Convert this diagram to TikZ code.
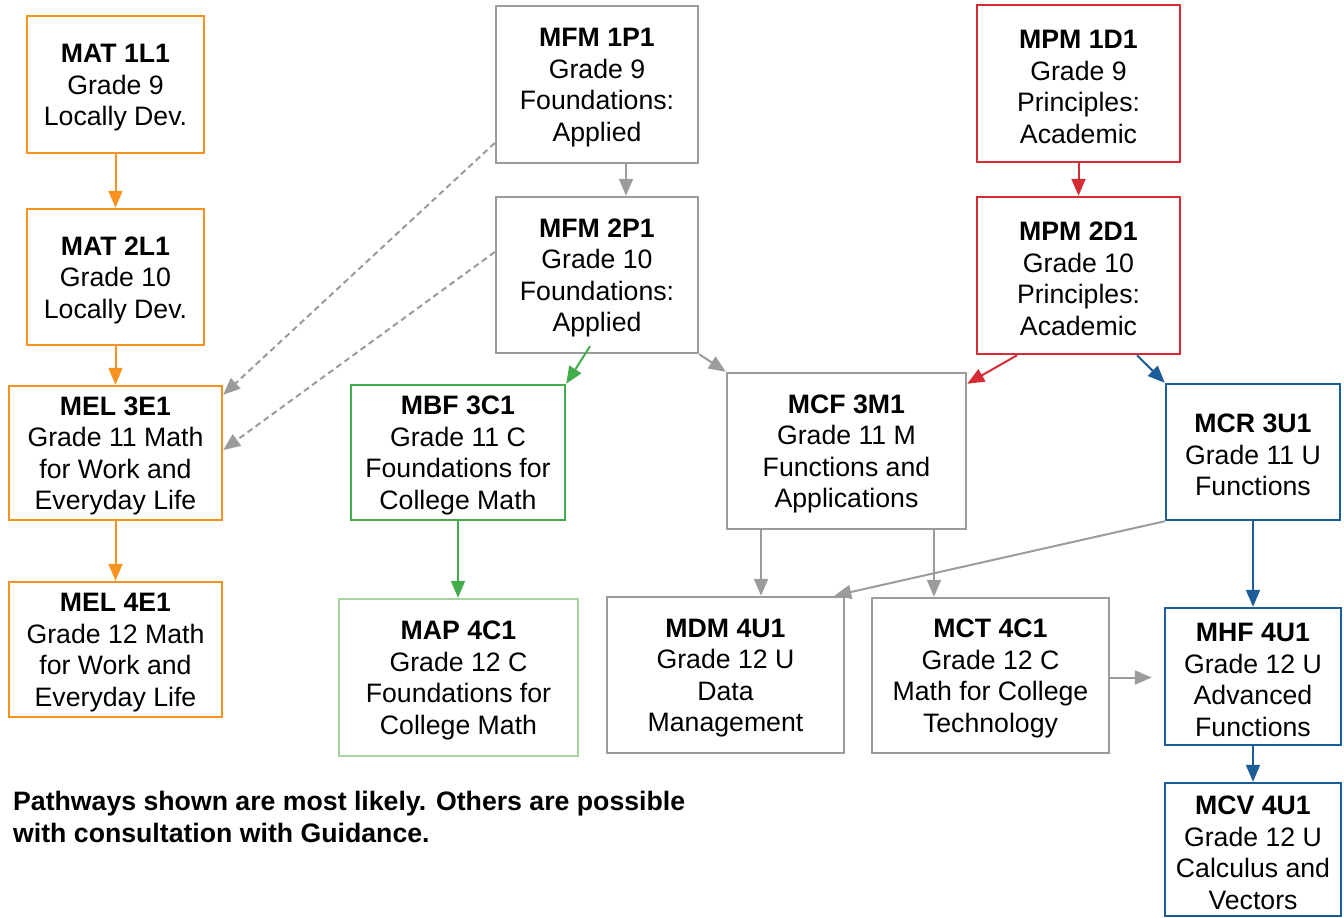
\documentclass[tikz,border=0pt]{standalone}
\usepackage{fontspec}
\setmainfont{Liberation Sans}
\usetikzlibrary{arrows.meta}
\definecolor{corange}{HTML}{F7931E}
\definecolor{cgray}{HTML}{9B9B9B}
\definecolor{cred}{HTML}{D52B33}
\definecolor{cgreen}{HTML}{43AC4A}
\definecolor{clgreen}{HTML}{A6D49F}
\definecolor{cblue}{HTML}{1C5C97}
\newcommand{\ctitle}[1]{\rule{0pt}{25pt}\textbf{#1}}
\tikzset{
  box/.style={draw, line width=2.5pt, fill=white, align=center, inner sep=0pt,
    font=\fontsize{26.67}{31.5}\selectfont},
  conn/.style={line width=2pt, -{Triangle[length=17pt,width=14pt]}},
  dconn/.style={conn, dash pattern=on 6pt off 4pt},
}
\begin{document}
\begin{tikzpicture}[x=1pt,y=-1pt]
\useasboundingbox (0,0) rectangle (1344,918);
% orange column
\node[box, draw=corange, minimum width=177pt, minimum height=137pt] (mat1) at (115.5,84.5) {\ctitle{MAT 1L1}\\Grade 9\\Locally Dev.};
\node[box, draw=corange, minimum width=177pt, minimum height=136pt] (mat2) at (115.5,277) {\ctitle{MAT 2L1}\\Grade 10\\Locally Dev.};
\node[box, draw=corange, minimum width=213pt, minimum height=134pt] (mel3) at (115.5,453) {\ctitle{MEL 3E1}\\Grade 11 Math\\for Work and\\Everyday Life};
\node[box, draw=corange, minimum width=213pt, minimum height=135pt] (mel4) at (115.5,649.5) {\ctitle{MEL 4E1}\\Grade 12 Math\\for Work and\\Everyday Life};
% gray / applied
\node[box, draw=cgray, minimum width=202pt, minimum height=157pt] (mfm1) at (597,84.5) {\ctitle{MFM 1P1}\\Grade 9\\Foundations:\\Applied};
\node[box, draw=cgray, minimum width=202pt, minimum height=156pt] (mfm2) at (597,275) {\ctitle{MFM 2P1}\\Grade 10\\Foundations:\\Applied};
% red / academic
\node[box, draw=cred, minimum width=203pt, minimum height=157pt] (mpm1) at (1078.5,83.5) {\ctitle{MPM 1D1}\\Grade 9\\Principles:\\Academic};
\node[box, draw=cred, minimum width=203pt, minimum height=157pt] (mpm2) at (1078.5,275.5) {\ctitle{MPM 2D1}\\Grade 10\\Principles:\\Academic};
% grade 11
\node[box, draw=cgreen, minimum width=214pt, minimum height=135pt] (mbf) at (458,452.5) {\ctitle{MBF 3C1}\\Grade 11 C\\Foundations for\\College Math};
\node[box, draw=cgray, minimum width=239pt, minimum height=156pt] (mcf) at (846.5,451) {\ctitle{MCF 3M1}\\Grade 11 M\\Functions and\\Applications};
\node[box, draw=cblue, minimum width=174pt, minimum height=136pt] (mcr) at (1253,452) {\ctitle{MCR 3U1}\\Grade 11 U\\Functions};
% grade 12
\node[box, draw=clgreen, minimum width=239pt, minimum height=157pt] (map) at (458.5,677.5) {\ctitle{MAP 4C1}\\Grade 12 C\\Foundations for\\College Math};
\node[box, draw=cgray, minimum width=237pt, minimum height=156pt] (mdm) at (725.5,675) {\ctitle{MDM 4U1}\\Grade 12 U\\Data\\Management};
\node[box, draw=cgray, minimum width=237pt, minimum height=155pt] (mct) at (990.5,675.5) {\ctitle{MCT 4C1}\\Grade 12 C\\Math for College\\Technology};
\node[box, draw=cblue, minimum width=176pt, minimum height=137pt] (mhf) at (1253,676.5) {\ctitle{MHF 4U1}\\Grade 12 U\\Advanced\\Functions};
\node[box, draw=cblue, minimum width=176pt, minimum height=133pt] (mcv) at (1253,849.5) {\ctitle{MCV 4U1}\\Grade 12 U\\Calculus and\\Vectors};
% note
\node[anchor=base west, align=left, inner sep=0pt, font=\fontsize{26.67}{31.5}\selectfont\bfseries] (note) at (13,842) {Pathways shown are most likely. Others are possible\\with consultation with Guidance.};
% connectors
\draw[conn, corange] (mat1.south) -- (mat2.north);
\draw[conn, corange] (mat2.south) -- (mel3.north);
\draw[conn, corange] (mel3.south) -- (mel4.north);
\draw[conn, cgray] ([xshift=29pt]mfm1.south) -- ([xshift=29pt]mfm1.south |- mfm2.north);
\draw[dconn, cgray] ([yshift=-58.5pt]mfm1.west) -- ([yshift=-10pt]mel3.north east);
\draw[dconn, cgray] ([yshift=23pt]mfm2.west) -- ([yshift=3pt]mel3.east);
\draw[conn, cgreen] ([xshift=-7pt,yshift=8pt]mfm2.south) -- (mbf.north east);
\draw[conn, cgray] (mfm2.south east) -- (mcf.north west);
\draw[conn, cred] (mpm1.south) -- (mpm2.north);
\draw[conn, cred] ([xshift=-61.5pt]mpm2.south) -- ([yshift=-12pt]mcf.north east);
\draw[conn, cblue] ([xshift=58.5pt]mpm2.south) -- (mcr.north west);
\draw[conn, cgreen] (mbf.south) -- (mbf.south |- map.north);
\draw[conn, cgray] ([xshift=-85.5pt]mcf.south) -- ([xshift=-85.5pt]mcf.south |- mdm.north);
\draw[conn, cgray] ([xshift=87.5pt]mcf.south) -- ([xshift=87.5pt]mcf.south |- mct.north);
\draw[conn, cgray] (mcr.south west) -- ([xshift=-11pt]mdm.north east);
\draw[conn, cgray] ([yshift=-2pt]mct.east) -- ([xshift=-12pt,yshift=-2pt]mhf.west |- mct.east);
\draw[conn, cblue] (mcr.south) -- (mhf.north);
\draw[conn, cblue] (mhf.south) -- (mcv.north);
\end{tikzpicture}
\end{document}
